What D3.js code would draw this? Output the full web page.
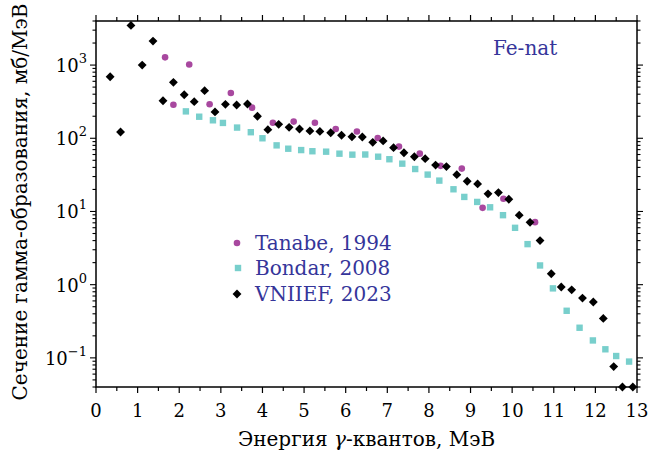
<!DOCTYPE html>
<html><head><meta charset="utf-8">
<script src="https://cdn.jsdelivr.net/npm/d3@7"></script>
<style>body{margin:0;background:#fff}svg{display:block}</style>
</head><body><svg id="c" width="651" height="453" font-family="'DejaVu Serif', serif"></svg>
<script>
const tanabeX = [1.66,1.86,2.24,2.73,3.24,3.75,4.25,4.75,5.26,5.76,6.27,6.77,7.28,7.78,8.28,8.79,9.29,9.79,10.55];
const tanabeY = [1274,287,1020,291,415,262,163,169,163,134,124,101,77,61.6,42,38.5,11.2,14.9,7.15];
const bondarX = [2.16,2.48,2.81,3.05,3.39,3.72,4.0,4.34,4.62,4.93,5.20,5.53,5.85,6.16,6.47,6.78,7.05,7.36,7.67,7.97,8.25,8.59,8.85,9.16,9.47,9.78,10.07,10.37,10.67,10.98,11.31,11.62,11.94,12.24,12.50,12.81];
const bondarY = [233,197,176,162,140,121,100,80,72,69,66.5,65.6,61.6,59.7,60,56,51.7,45,38,31.9,26.4,20.1,15.8,13.5,11.4,8.9,5.98,3.58,1.83,0.89,0.44,0.258,0.173,0.131,0.106,0.089];
const vniiefX = [0.34,0.59,0.84,1.11,1.37,1.61,1.86,2.12,2.36,2.61,2.86,3.11,3.38,3.64,3.88,4.13,4.39,4.64,4.89,5.14,5.38,5.64,5.90,6.15,6.40,6.65,6.90,7.15,7.40,7.65,7.91,8.16,8.42,8.67,8.92,9.17,9.42,9.67,9.92,10.17,10.43,10.67,10.94,11.18,11.43,11.69,11.95,12.19,12.44,12.65,12.90];
const vniiefY = [692,122,3480,1000,2125,326,581,393,316,447,229,291,285,294,200,131,155,141,134,126,124,119,110,105,104,88,92,74.5,63.5,56,52.6,43,41,31.8,25.9,23.8,17.4,18.1,14.7,8.9,7.1,4.0,1.41,0.93,0.85,0.656,0.58,0.346,0.076,0.04,0.04];
const xTicks = [0,1,2,3,4,5,6,7,8,9,10,11,12,13];
const yTicks = [0.1,1,10,100,1000];
const yTickExp = ["−1","0","1","2","3"];
const seriesNames = ["Tanabe, 1994","Bondar, 2008","VNIIEF, 2023"];
const panelLabel = "Fe-nat";
const xTitle = ["Энергия ","γ","-квантов, МэВ"];
const yTitle = "Сечение гамма-образования, мб/МэВ";

const svg = d3.select("#c");
const L=96,R=637,T=21,B=387;
const x = d3.scaleLinear().domain([0,13]).range([L,R]);
const y = d3.scaleLog().domain([0.04,4000]).range([B,T]);
const textCol = "#35359a";
const cPurple="#a8489f", cCyan="#78cfcc";

svg.append("rect").attr("x",L).attr("y",T).attr("width",R-L).attr("height",B-T).attr("fill","none").attr("stroke","#000").attr("stroke-width",1.5);

const g = svg.append("g");
d3.range(0,13.01,0.5).forEach(v=>{
  const major = Math.abs(v-Math.round(v))<1e-6;
  const len = major?6:4;
  g.append("line").attr("x1",x(v)).attr("x2",x(v)).attr("y1",B).attr("y2",B+len).attr("stroke","#000").attr("stroke-width",1.2);
  g.append("line").attr("x1",x(v)).attr("x2",x(v)).attr("y1",T).attr("y2",T-len).attr("stroke","#000").attr("stroke-width",1.2);
});
xTicks.forEach(v=>{
  g.append("text").attr("x",x(v)).attr("y",B+30).attr("text-anchor","middle").attr("font-size",18).text(v);
});
const yMinor=[];
for(let e=-2;e<=3;e++){for(let m=1;m<=9;m++){const v=m*Math.pow(10,e); if(v>=0.04&&v<=4000) yMinor.push([v,m===1]);}}
yMinor.forEach(([v,major])=>{
  const len = major?6:3.5;
  g.append("line").attr("x1",L).attr("x2",L-len).attr("y1",y(v)).attr("y2",y(v)).attr("stroke","#000").attr("stroke-width",1.1);
  g.append("line").attr("x1",R).attr("x2",R+len).attr("y1",y(v)).attr("y2",y(v)).attr("stroke","#000").attr("stroke-width",1.1);
});
yTicks.forEach((v,i)=>{
  const t = g.append("text").attr("x",L-9).attr("y",y(v)+7).attr("text-anchor","end").attr("font-size",18);
  t.append("tspan").text("10");
  t.append("tspan").attr("dy",-9).attr("font-size",13).text(yTickExp[i]);
});

const xt = svg.append("text").attr("x",(L+R)/2).attr("y",446).attr("text-anchor","middle").attr("font-size",20);
xt.append("tspan").text(xTitle[0]);
xt.append("tspan").attr("font-style","italic").text(xTitle[1]);
xt.append("tspan").text(xTitle[2]);
svg.append("text").attr("transform",`translate(27,${(T+B)/2-2}) rotate(-90)`).attr("text-anchor","middle").attr("font-size",20).text(yTitle);

const plot = svg.append("g");
const diamond = d3.symbol().type(d3.symbolDiamond2).size(50);
plot.selectAll(".b").data(d3.zip(bondarX,bondarY)).join("rect")
  .attr("x",d=>x(d[0])-3.2).attr("y",d=>y(d[1])-3.2).attr("width",6.4).attr("height",6.4).attr("fill",cCyan);
plot.selectAll(".t").data(d3.zip(tanabeX,tanabeY)).join("circle")
  .attr("cx",d=>x(d[0])).attr("cy",d=>y(d[1])).attr("r",3.3).attr("fill",cPurple);
plot.selectAll(".v").data(d3.zip(vniiefX,vniiefY)).join("path")
  .attr("d",diamond).attr("transform",d=>`translate(${x(d[0])},${y(d[1])})`).attr("fill","#000");

const lg = svg.append("g");
const ly=[243,268,294];
lg.append("circle").attr("cx",237).attr("cy",ly[0]).attr("r",3.3).attr("fill",cPurple);
lg.append("rect").attr("x",234.8).attr("y",ly[1]-3.2).attr("width",6.4).attr("height",6.4).attr("fill",cCyan);
lg.append("path").attr("d",diamond).attr("transform",`translate(237,${ly[2]})`).attr("fill","#000");
seriesNames.forEach((s,i)=>{
  lg.append("text").attr("x",255).attr("y",ly[i]+7).attr("font-size",20).attr("fill",textCol).text(s);
});
svg.append("text").attr("x",493).attr("y",55).attr("font-size",20).attr("fill",textCol).text(panelLabel);
</script></body></html>
